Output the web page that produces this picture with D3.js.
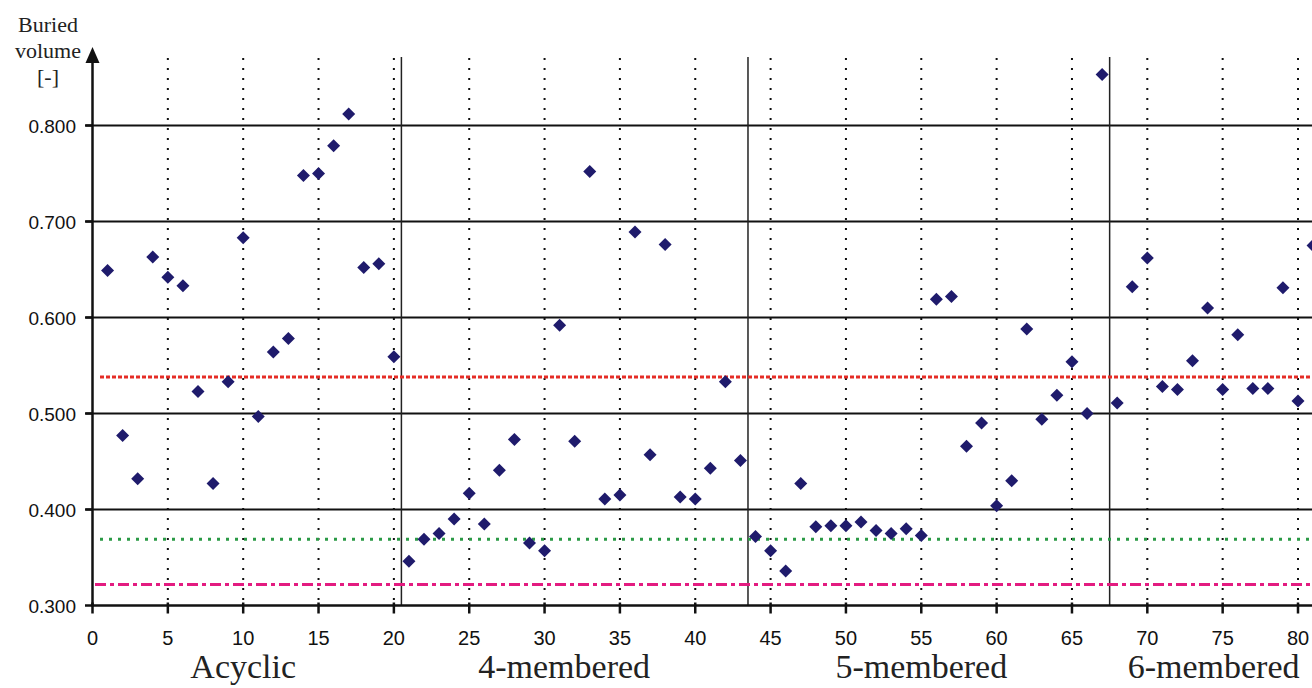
<!DOCTYPE html>
<html>
<head>
<meta charset="utf-8">
<script src="https://cdn.jsdelivr.net/npm/d3@7"></script>
<style>
  html, body { margin: 0; padding: 0; background: #fff; }
  svg { display: block; }
</style>
</head>
<body>
<div id="chart"></div>
<script>
// buried volume for compounds 1..81 (x = index + 1)
const buriedVolume = [
  0.649, 0.477, 0.432, 0.663, 0.642, 0.633, 0.523, 0.427, 0.533, 0.683,
  0.497, 0.564, 0.578, 0.748, 0.750, 0.779, 0.812, 0.652, 0.656, 0.559,
  0.346, 0.369, 0.375, 0.390, 0.417, 0.385, 0.441, 0.473, 0.365, 0.357,
  0.592, 0.471, 0.752, 0.411, 0.415, 0.689, 0.457, 0.676, 0.413, 0.411,
  0.443, 0.533, 0.451, 0.372, 0.357, 0.336, 0.427, 0.382, 0.383, 0.383,
  0.387, 0.378, 0.375, 0.380, 0.373, 0.619, 0.622, 0.466, 0.490, 0.404,
  0.430, 0.588, 0.494, 0.519, 0.554, 0.500, 0.853, 0.511, 0.632, 0.662,
  0.528, 0.525, 0.555, 0.610, 0.525, 0.582, 0.526, 0.526, 0.631, 0.513,
  0.675
];

// group boundaries and names
const groupBreaks = [20.5, 43.5, 67.5];
const groupNames = ["Acyclic", "4-membered", "5-membered", "6-membered"];
const groupCenters = [10, 31.3, 55, 74.4];

// horizontal reference levels
const refRed = 0.538;
const refGreen = 0.369;
const refMagenta = 0.322;

// tick labels
const xTicks = [0, 5, 10, 15, 20, 25, 30, 35, 40, 45, 50, 55, 60, 65, 70, 75, 80];
const yTicks = [0.3, 0.4, 0.5, 0.6, 0.7, 0.8];

const W = 1312, H = 688;
const svg = d3.select("#chart").append("svg")
  .attr("width", W).attr("height", H);

// scales
const x = d3.scaleLinear().domain([0, 80]).range([92.5, 1298]);
const y = d3.scaleLinear().domain([0.3, 0.8]).range([605.5, 125.5]);
const plotTop = 57;
const xRight = W;

// horizontal grid lines
svg.selectAll(".hgrid")
  .data(yTicks.slice(1))
  .enter().append("line")
  .attr("x1", 86).attr("x2", xRight)
  .attr("y1", d => y(d)).attr("y2", d => y(d))
  .attr("stroke", "#111").attr("stroke-width", 2);

// vertical dotted lines at every 5
svg.selectAll(".vdot")
  .data(xTicks.slice(1))
  .enter().append("line")
  .attr("x1", d => x(d)).attr("x2", d => x(d))
  .attr("y1", plotTop + 1).attr("y2", y(0.3))
  .attr("stroke", "#111").attr("stroke-width", 2)
  .attr("stroke-dasharray", "2,8");

// group separators
svg.selectAll(".sep")
  .data(groupBreaks)
  .enter().append("line")
  .attr("x1", d => x(d)).attr("x2", d => x(d))
  .attr("y1", plotTop).attr("y2", y(0.3))
  .attr("stroke", "#222").attr("stroke-width", 1.5);

// reference lines
svg.append("line")
  .attr("x1", 100).attr("x2", xRight)
  .attr("y1", y(refRed)).attr("y2", y(refRed))
  .attr("stroke", "#e52d26").attr("stroke-width", 3)
  .attr("stroke-dasharray", "4,2");

svg.append("line")
  .attr("x1", 100).attr("x2", xRight)
  .attr("y1", y(refGreen)).attr("y2", y(refGreen))
  .attr("stroke", "#2b9a46").attr("stroke-width", 3)
  .attr("stroke-dasharray", "3,6");

svg.append("line")
  .attr("x1", 95).attr("x2", xRight)
  .attr("y1", y(refMagenta)).attr("y2", y(refMagenta))
  .attr("stroke", "#e31b80").attr("stroke-width", 3)
  .attr("stroke-dasharray", "11,4,4,4");

// x axis
svg.append("line")
  .attr("x1", x(0)).attr("x2", xRight)
  .attr("y1", y(0.3)).attr("y2", y(0.3))
  .attr("stroke", "#111").attr("stroke-width", 2.5);

svg.selectAll(".xtick")
  .data(xTicks)
  .enter().append("line")
  .attr("x1", d => x(d)).attr("x2", d => x(d))
  .attr("y1", y(0.3) - 3).attr("y2", y(0.3) + 8)
  .attr("stroke", "#111").attr("stroke-width", 2.5);

svg.selectAll(".xlabel")
  .data(xTicks)
  .enter().append("text")
  .attr("x", d => x(d)).attr("y", 645)
  .attr("text-anchor", "middle")
  .style("font-family", "'Liberation Sans', Arial, sans-serif")
  .style("font-size", "20px")
  .attr("fill", "#111")
  .text(d => d);

// y axis with arrow
svg.append("line")
  .attr("x1", x(0)).attr("x2", x(0))
  .attr("y1", y(0.3) + 1).attr("y2", 58)
  .attr("stroke", "#111").attr("stroke-width", 2.5);

svg.append("path")
  .attr("d", `M${x(0) - 7},63 L${x(0) + 7},63 L${x(0)},47 Z`)
  .attr("fill", "#111");

svg.selectAll(".ytick")
  .data(yTicks)
  .enter().append("line")
  .attr("x1", 85).attr("x2", x(0))
  .attr("y1", d => y(d)).attr("y2", d => y(d))
  .attr("stroke", "#111").attr("stroke-width", 2.5);

svg.selectAll(".ylabel")
  .data(yTicks)
  .enter().append("text")
  .attr("x", 76).attr("y", d => y(d) + 7)
  .attr("text-anchor", "end")
  .style("font-family", "'Liberation Sans', Arial, sans-serif")
  .style("font-size", "19px")
  .attr("fill", "#111")
  .text(d => d3.format(".3f")(d));

// axis title
const title = svg.append("text")
  .attr("text-anchor", "middle")
  .style("font-family", "'Liberation Serif', 'Times New Roman', serif")
  .style("font-size", "22px")
  .attr("fill", "#222");
["Buried", "volume", "[-]"].forEach((t, i) => {
  title.append("tspan").attr("x", 48).attr("y", 32 + i * 26).text(t);
});

// group labels
svg.selectAll(".group")
  .data(groupNames)
  .enter().append("text")
  .attr("x", (d, i) => x(groupCenters[i]))
  .attr("y", 678)
  .attr("text-anchor", "middle")
  .style("font-family", "'Liberation Serif', 'Times New Roman', serif")
  .style("font-size", "34px")
  .attr("fill", "#222")
  .text(d => d);

// data points as diamonds
const r = 6.5;
svg.selectAll(".pt")
  .data(buriedVolume)
  .enter().append("path")
  .attr("d", (d, i) => {
    const cx = x(i + 1), cy = y(d);
    return `M${cx},${cy - r} L${cx + r},${cy} L${cx},${cy + r} L${cx - r},${cy} Z`;
  })
  .attr("fill", "#1f1b6c");
</script>
</body>
</html>
